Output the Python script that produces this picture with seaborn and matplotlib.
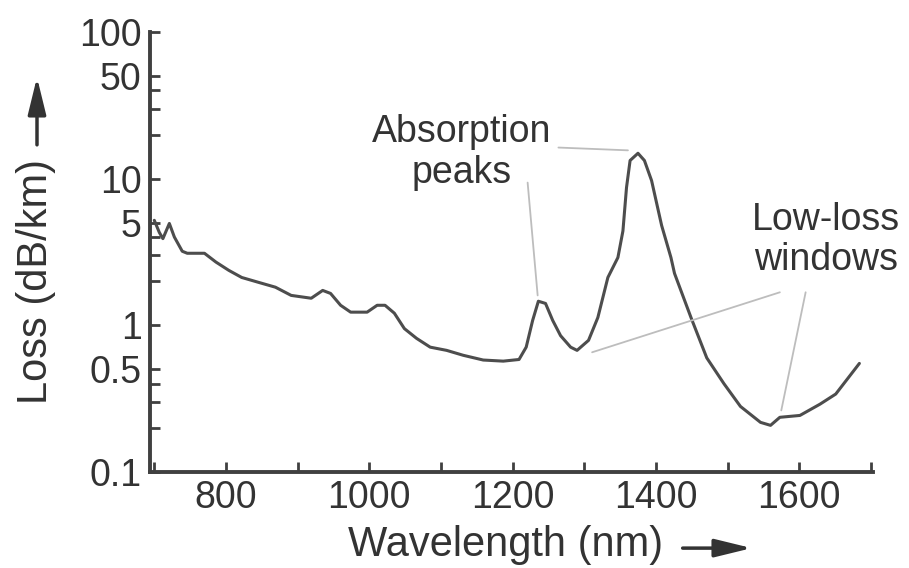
import matplotlib
matplotlib.use("Agg")
import matplotlib.pyplot as plt
import seaborn as sns
import pandas as pd
from matplotlib.ticker import FixedLocator, FixedFormatter, NullFormatter

# fibre attenuation curve
wavelength = [700, 707, 712, 721, 728, 739, 746, 770, 786, 804, 822, 846, 869, 891,
              919, 935, 946, 960, 974, 984, 997, 1011, 1022, 1035, 1049, 1066, 1085,
              1108, 1131, 1159, 1187, 1209, 1219, 1228, 1236, 1246, 1256, 1267, 1281,
              1290, 1306, 1319, 1333, 1347, 1354, 1359, 1364, 1375, 1384, 1394, 1408,
              1421, 1426, 1449, 1471, 1495, 1518, 1546, 1560, 1573, 1601, 1629, 1651,
              1684]
loss = [5.2, 4.3, 3.9, 4.95, 4.0, 3.2, 3.1, 3.1, 2.7, 2.37, 2.12, 1.96, 1.82, 1.6,
        1.53, 1.73, 1.65, 1.37, 1.23, 1.23, 1.23, 1.37, 1.37, 1.21, 0.95, 0.815, 0.71,
        0.675, 0.625, 0.58, 0.57, 0.585, 0.71, 1.08, 1.46, 1.41, 1.08, 0.85, 0.71,
        0.675, 0.79, 1.13, 2.12, 2.9, 4.4, 8.7, 13.3, 14.9, 13.3, 9.7, 4.8,
        2.9, 2.26, 1.13, 0.6, 0.40, 0.28, 0.218, 0.208, 0.236, 0.243, 0.29, 0.34,
        0.55]

x_major = [800, 1000, 1200, 1400, 1600]
x_minor = [700, 900, 1100, 1300, 1500, 1700]
y_major = [0.1, 0.5, 1, 5, 10, 50, 100]
y_labels = ["0.1", "0.5", "1", "5", "10", "50", "100"]
y_minor = [0.2, 0.3, 0.4, 2, 3, 4, 20, 30, 40]

sns.set_style("ticks")
plt.rcParams['font.family'] = ['Liberation Sans', 'DejaVu Sans']

dark = "#404040"
grey = "#bdbdbd"

fig = plt.figure(figsize=(9.09, 5.68), dpi=100)
ax = fig.add_axes([150 / 909, 96 / 568, 723 / 909, 440 / 568])

df = pd.DataFrame({"wavelength": wavelength, "loss": loss})
sns.lineplot(data=df, x="wavelength", y="loss", ax=ax, color="#4d4d4d", lw=2.2)

ax.set_yscale("log")
ax.set_xlim(694, 1703)
ax.set_ylim(0.1, 100)

ax.xaxis.set_major_locator(FixedLocator(x_major))
ax.xaxis.set_minor_locator(FixedLocator(x_minor))
ax.xaxis.set_minor_formatter(NullFormatter())
ax.yaxis.set_major_locator(FixedLocator(y_major))
ax.yaxis.set_major_formatter(FixedFormatter(y_labels))
ax.yaxis.set_minor_locator(FixedLocator(y_minor))
ax.yaxis.set_minor_formatter(NullFormatter())

ax.tick_params(which="both", direction="in", length=7, width=2, color=dark,
               labelsize=27, labelcolor="#333333", pad=6)
ax.set_xlabel("")
ax.set_ylabel("")
sns.despine(ax=ax)
for s in ["left", "bottom"]:
    ax.spines[s].set_linewidth(2.8)
    ax.spines[s].set_color(dark)

# annotations
line = dict(arrowstyle="-", color=grey, lw=1.3, shrinkA=0, shrinkB=0)
ax.annotate("", xy=(1235, 1.6), xytext=(1221, 9.4), arrowprops=line)
ax.annotate("", xy=(1361, 15.6), xytext=(1264, 16.3), arrowprops=line)
ax.annotate("", xy=(1311, 0.655), xytext=(1573, 1.68), arrowprops=line)
ax.annotate("", xy=(1575, 0.263), xytext=(1609, 1.68), arrowprops=line)
ax.text(1129, 15.1, "Absorption\npeaks", ha="center", va="center", fontsize=27,
        color="#333333", linespacing=1.15)
ax.text(1638, 3.8, "Low-loss\nwindows", ha="center", va="center", fontsize=27,
        color="#333333", linespacing=1.15)

# axis titles with arrows
fig.text(0.0395, 0.505, "Loss (dB/km)", rotation=90, ha="center", va="center",
         fontsize=30, color="#333333")
fig.text(0.556, 0.040, "Wavelength (nm)", ha="center", va="center",
         fontsize=30, color="#333333")
arrow = dict(arrowstyle="-|>,head_length=0.9,head_width=0.22", color="#333333",
             lw=2.5, mutation_scale=25, shrinkA=0, shrinkB=0)
ax.annotate("", xy=(0.0407, 0.864), xytext=(0.0407, 0.745),
            xycoords="figure fraction", textcoords="figure fraction",
            arrowprops=arrow, annotation_clip=False)
ax.annotate("", xy=(0.827, 0.035), xytext=(0.751, 0.035),
            xycoords="figure fraction", textcoords="figure fraction",
            arrowprops=arrow, annotation_clip=False)

fig.savefig("out.png", dpi=100)
